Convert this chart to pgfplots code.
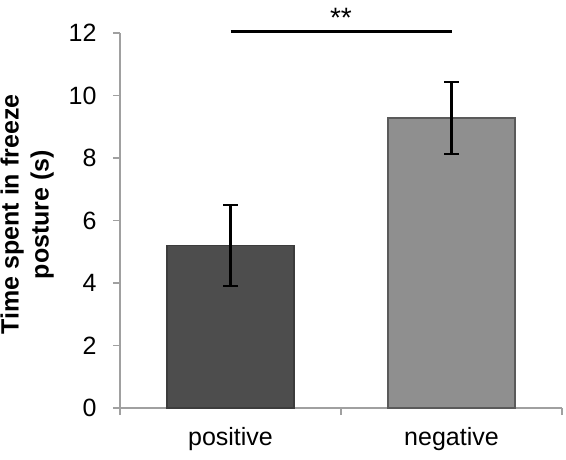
\documentclass[border=0pt]{standalone}
\usepackage{fontspec}
\setmainfont{Liberation Sans}
\usepackage{pgfplots}
\pgfplotsset{compat=1.18}
\definecolor{axgray}{RGB}{160,160,160}
\definecolor{darkbar}{RGB}{77,77,77}
\definecolor{darkedge}{RGB}{60,60,60}
\definecolor{lightbar}{RGB}{143,143,143}
\definecolor{lightedge}{RGB}{90,90,90}
\newcommand{\bigfont}{\fontsize{25bp}{30bp}\selectfont}
\begin{document}
\bigfont
\begin{tikzpicture}[font=\bigfont]
\begin{axis}[
  at={(120bp,52bp)}, anchor=south west,
  scale only axis, width=442bp, height=375bp,
  xmin=0, xmax=2, ymin=0, ymax=12,
  axis lines=left,
  axis line style={-, axgray, line width=1.5bp},
  tick align=outside, major tick length=7bp,
  tick style={axgray, line width=1.5bp},
  tick label style={font=\bigfont, black},
  yticklabel style={xshift=-8bp},
  xticklabel style={yshift=-11bp},
  ytick={0,2,...,12},
  xtick={0,1,2}, xticklabels={},
  extra x ticks={0.5,1.5},
  extra x tick labels={positive,negative},
  extra x tick style={major tick length=0pt, tick style={draw=none}},
  ylabel={Time spent in freeze\\posture (s)},
  ylabel style={align=center, font=\bigfont\bfseries,
    at={(axis description cs:0,0.5)}, anchor=south, inner sep=0pt, yshift=66bp, xshift=6bp},
  clip=false,
  /pgf/number format/assume math mode=true,
]
\addplot[ybar, bar width=127bp, bar shift=0pt, fill=darkbar, draw=darkedge, line width=1.5bp,
  error bars/.cd, y dir=both, y explicit, error mark=-,
  error bar style={black, line width=2.4bp},
  error mark options={black, line width=2.4bp, mark size=7.5bp, rotate=90}]
  coordinates {(0.5,5.2) +- (0,1.3)};
\addplot[ybar, bar width=127bp, bar shift=0pt, fill=lightbar, draw=lightedge, line width=1.5bp,
  error bars/.cd, y dir=both, y explicit, error mark=-,
  error bar style={black, line width=2.4bp},
  error mark options={black, line width=2.4bp, mark size=7.5bp, rotate=90}]
  coordinates {(1.5,9.28) +- (0,1.15)};
\addplot[black, line width=2.6bp, mark=none] coordinates {(0.5,12.04) (1.5,12.04)};
\node[anchor=base, font=\fontsize{28bp}{32bp}\selectfont] at (axis cs:1,12.17) {**};
\end{axis}
\pgfresetboundingbox
\useasboundingbox (0,0) rectangle (566bp,460bp);
\end{tikzpicture}
\end{document}
